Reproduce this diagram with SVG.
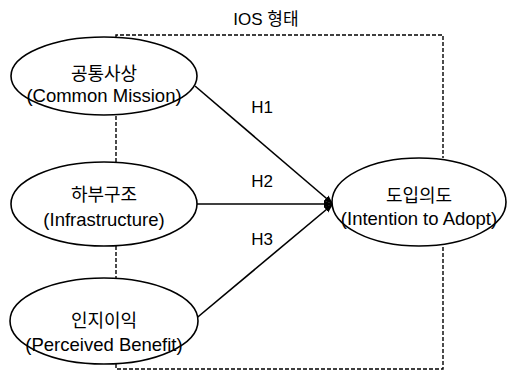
<svg xmlns="http://www.w3.org/2000/svg" width="515" height="372" viewBox="0 0 515 372">
<defs>
<style>
.n{fill:#fff;stroke:#000;stroke-width:1.6}
.t{font-family:"Liberation Sans","Noto Sans CJK KR",sans-serif;font-size:17px;fill:#000;text-anchor:middle}
.k{font-size:18px}
.e{font-size:18.5px}
.d{fill:none;stroke:#000;stroke-width:1.4;stroke-dasharray:4,2}
.c{fill:none;stroke:#000;stroke-width:1.6}
</style>
<marker id="ah" markerWidth="10" markerHeight="10" refX="9" refY="5" orient="auto" markerUnits="userSpaceOnUse">
<path d="M0,1.5 L9,5 L0,8.5 Z" fill="#000"/>
</marker>
</defs>
<rect width="515" height="372" fill="#fff"/>
<g id="boundary">
<path class="d" d="M116,37 V35 H443 V158"/>
<path class="d" d="M443,247 V369 H116 V364"/>
<path class="d" d="M116,116 V162"/>
<path class="d" d="M116,246 V279"/>
<text class="t" x="266" y="25">IOS 형태</text>
</g>
<g id="connectors">
<line class="c" x1="195" y1="86" x2="333" y2="204" marker-end="url(#ah)"/>
<line class="c" x1="197" y1="204" x2="333" y2="204" marker-end="url(#ah)"/>
<line class="c" x1="193" y1="321" x2="333" y2="204" marker-end="url(#ah)"/>
<text class="t" x="262" y="113">H1</text>
<text class="t" x="262" y="187">H2</text>
<text class="t" x="262" y="245">H3</text>
</g>
<g id="n1">
<ellipse class="n" cx="104" cy="76" rx="93" ry="39"/>
<text class="t k" x="104" y="80">공통사상</text>
<text class="t e" x="104" y="102">(Common Mission)</text>
</g>
<g id="n2">
<ellipse class="n" cx="104" cy="204" rx="93" ry="42"/>
<text class="t k" x="104" y="201">하부구조</text>
<text class="t e" x="104" y="226">(Infrastructure)</text>
</g>
<g id="n3">
<ellipse class="n" cx="104" cy="321" rx="94" ry="43"/>
<text class="t k" x="104" y="327">인지이익</text>
<text class="t e" x="104" y="351">(Perceived Benefit)</text>
</g>
<g id="n4">
<ellipse class="n" cx="419" cy="202" rx="87" ry="44"/>
<text class="t k" x="419" y="202">도입의도</text>
<text class="t e" x="419" y="225">(Intention to Adopt)</text>
</g>
</svg>
